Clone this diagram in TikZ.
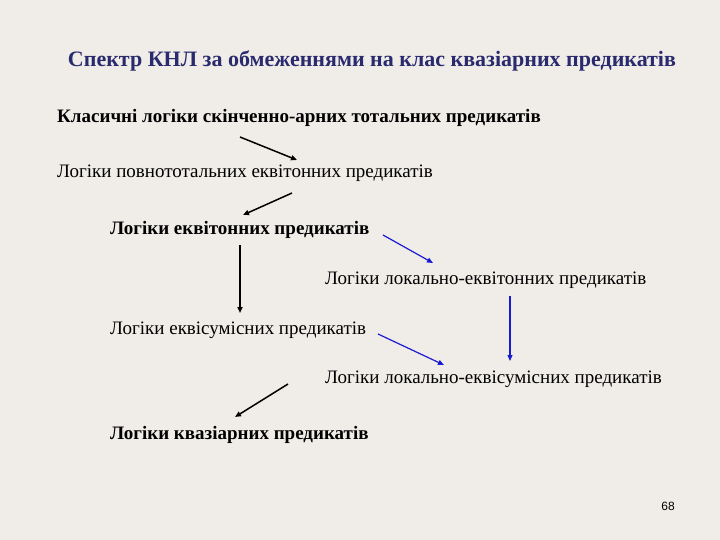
\documentclass[tikz,border=0pt]{standalone}
\usepackage{fontspec}
\setmainfont{Liberation Serif}
\newfontfamily\serifcyr{Liberation Serif}
\setsansfont{Liberation Sans}
\usetikzlibrary{arrows.meta}
\definecolor{bg}{HTML}{F0EDE8}
\definecolor{titlec}{HTML}{2A2A6E}
\definecolor{arrblue}{HTML}{1A1AD0}
\tikzset{
  lbl/.style={anchor=base west, inner sep=0pt, font=\serifcyr\fontsize{19}{22}\selectfont},
  lblb/.style={lbl, font=\serifcyr\fontsize{19}{22}\selectfont\bfseries},
  blk/.style={draw=black, line width=1.5pt, -{Triangle[length=6pt,width=5pt]}},
  blu/.style={draw=arrblue, line width=1.2pt, -{Triangle[length=6pt,width=5pt]}}
}
\begin{document}
\begin{tikzpicture}[x=1pt,y=-1pt]
\fill[bg] (0,0) rectangle (720,540);
\useasboundingbox (0,0) rectangle (720,540);
\node[anchor=base, inner sep=0pt, text=titlec, font=\serifcyr\fontsize{22}{26}\selectfont\bfseries] (title) at (372,67) {Спектр КНЛ за обмеженнями на клас квазіарних предикатів};
\node[lblb] (n1) at (57,123) {Класичні логіки скінченно-арних тотальних предикатів};
\node[lbl] (n2) at (57,178) {Логіки повнототальних еквітонних предикатів};
\node[lblb] (n3) at (110,234) {Логіки еквітонних предикатів};
\node[lbl] (n4) at (325,284) {Логіки локально-еквітонних предикатів};
\node[lbl] (n5) at (110,334) {Логіки еквісумісних предикатів};
\node[lbl] (n6) at (325,383) {Логіки локально-еквісумісних предикатів};
\node[lblb] (n7) at (110,439) {Логіки квазіарних предикатів};
\node[anchor=base, inner sep=0pt, font=\sffamily\fontsize{12}{14}\selectfont] (pg) at (668,510) {68};
\coordinate (a1s) at (240,137); \coordinate (a1e) at (297,160);
\coordinate (a2s) at (292,193); \coordinate (a2e) at (243,215);
\coordinate (a3s) at (383,235); \coordinate (a3e) at (433,263);
\coordinate (a4s) at (240,245); \coordinate (a4e) at (240,313);
\coordinate (a5s) at (510,296); \coordinate (a5e) at (510,361);
\coordinate (a6s) at (378,334); \coordinate (a6e) at (444,365);
\coordinate (a7s) at (288,384); \coordinate (a7e) at (235,417);
\draw[blk] (a1s) -- (a1e);
\draw[blk] (a2s) -- (a2e);
\draw[blu] (a3s) -- (a3e);
\draw[blk] (a4s) -- (a4e);
\draw[blu] (a5s) -- (a5e);
\draw[blu] (a6s) -- (a6e);
\draw[blk] (a7s) -- (a7e);
\end{tikzpicture}
\end{document}
